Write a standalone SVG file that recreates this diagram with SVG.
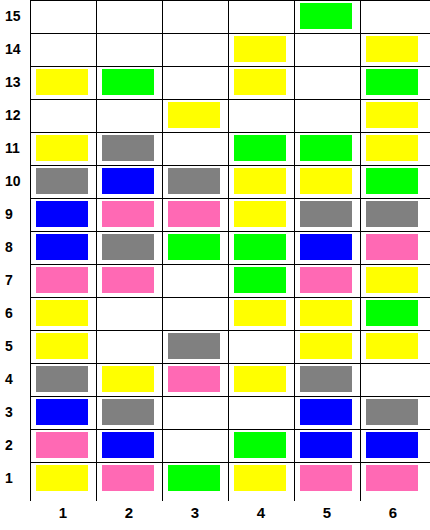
<svg xmlns="http://www.w3.org/2000/svg" width="430" height="530" viewBox="0 0 430 530">
<style>
.y{fill:#FFFF00}.g{fill:#00FF00}.b{fill:#0000FF}.k{fill:#808080}.p{fill:#FF69B4}
.ln{stroke:#000;stroke-width:1;fill:none}
.lb{font-family:"Liberation Sans",Arial,sans-serif;font-weight:bold;font-size:14px;fill:#000}
.c{text-anchor:middle;font-size:15px}
</style>
<rect width="430" height="530" fill="#fff"/>
<g id="grid" class="ln">
<path d="M30,0.5H430M30,33.5H430M30,66.5H430M30,99.5H430M30,132.5H430M30,165.5H430M30,198.5H430M30,231.5H430M30,264.5H430M30,297.5H430M30,330.5H430M30,363.5H430M30,396.5H430M30,429.5H430M30,462.5H430"/>
<path d="M30.5,0V501M96.5,0V501M162.5,0V501M228.5,0V501M294.5,0V501M360.5,0V501"/>
</g>
<g id="row-labels" class="lb">
<text x="5" y="21">15</text>
<text x="5" y="54">14</text>
<text x="5" y="87">13</text>
<text x="5" y="120">12</text>
<text x="5" y="153">11</text>
<text x="5" y="186">10</text>
<text x="5" y="219">9</text>
<text x="5" y="252">8</text>
<text x="5" y="285">7</text>
<text x="5" y="318">6</text>
<text x="5" y="351">5</text>
<text x="5" y="384">4</text>
<text x="5" y="417">3</text>
<text x="5" y="450">2</text>
<text x="5" y="483">1</text>
</g>
<g id="col-labels" class="lb c">
<text x="63" y="518">1</text>
<text x="129" y="518">2</text>
<text x="195" y="518">3</text>
<text x="261" y="518">4</text>
<text x="327" y="518">5</text>
<text x="393" y="518">6</text>
</g>
<g id="cells">
<rect id="r15c5" class="g" x="300" y="3" width="52" height="26"/>
<rect id="r14c4" class="y" x="234" y="36" width="52" height="26"/>
<rect id="r14c6" class="y" x="366" y="36" width="52" height="26"/>
<rect id="r13c1" class="y" x="36" y="69" width="52" height="26"/>
<rect id="r13c2" class="g" x="102" y="69" width="52" height="26"/>
<rect id="r13c4" class="y" x="234" y="69" width="52" height="26"/>
<rect id="r13c6" class="g" x="366" y="69" width="52" height="26"/>
<rect id="r12c3" class="y" x="168" y="102" width="52" height="26"/>
<rect id="r12c6" class="y" x="366" y="102" width="52" height="26"/>
<rect id="r11c1" class="y" x="36" y="135" width="52" height="26"/>
<rect id="r11c2" class="k" x="102" y="135" width="52" height="26"/>
<rect id="r11c4" class="g" x="234" y="135" width="52" height="26"/>
<rect id="r11c5" class="g" x="300" y="135" width="52" height="26"/>
<rect id="r11c6" class="y" x="366" y="135" width="52" height="26"/>
<rect id="r10c1" class="k" x="36" y="168" width="52" height="26"/>
<rect id="r10c2" class="b" x="102" y="168" width="52" height="26"/>
<rect id="r10c3" class="k" x="168" y="168" width="52" height="26"/>
<rect id="r10c4" class="y" x="234" y="168" width="52" height="26"/>
<rect id="r10c5" class="y" x="300" y="168" width="52" height="26"/>
<rect id="r10c6" class="g" x="366" y="168" width="52" height="26"/>
<rect id="r9c1" class="b" x="36" y="201" width="52" height="26"/>
<rect id="r9c2" class="p" x="102" y="201" width="52" height="26"/>
<rect id="r9c3" class="p" x="168" y="201" width="52" height="26"/>
<rect id="r9c4" class="y" x="234" y="201" width="52" height="26"/>
<rect id="r9c5" class="k" x="300" y="201" width="52" height="26"/>
<rect id="r9c6" class="k" x="366" y="201" width="52" height="26"/>
<rect id="r8c1" class="b" x="36" y="234" width="52" height="26"/>
<rect id="r8c2" class="k" x="102" y="234" width="52" height="26"/>
<rect id="r8c3" class="g" x="168" y="234" width="52" height="26"/>
<rect id="r8c4" class="g" x="234" y="234" width="52" height="26"/>
<rect id="r8c5" class="b" x="300" y="234" width="52" height="26"/>
<rect id="r8c6" class="p" x="366" y="234" width="52" height="26"/>
<rect id="r7c1" class="p" x="36" y="267" width="52" height="26"/>
<rect id="r7c2" class="p" x="102" y="267" width="52" height="26"/>
<rect id="r7c4" class="g" x="234" y="267" width="52" height="26"/>
<rect id="r7c5" class="p" x="300" y="267" width="52" height="26"/>
<rect id="r7c6" class="y" x="366" y="267" width="52" height="26"/>
<rect id="r6c1" class="y" x="36" y="300" width="52" height="26"/>
<rect id="r6c4" class="y" x="234" y="300" width="52" height="26"/>
<rect id="r6c5" class="y" x="300" y="300" width="52" height="26"/>
<rect id="r6c6" class="g" x="366" y="300" width="52" height="26"/>
<rect id="r5c1" class="y" x="36" y="333" width="52" height="26"/>
<rect id="r5c3" class="k" x="168" y="333" width="52" height="26"/>
<rect id="r5c5" class="y" x="300" y="333" width="52" height="26"/>
<rect id="r5c6" class="y" x="366" y="333" width="52" height="26"/>
<rect id="r4c1" class="k" x="36" y="366" width="52" height="26"/>
<rect id="r4c2" class="y" x="102" y="366" width="52" height="26"/>
<rect id="r4c3" class="p" x="168" y="366" width="52" height="26"/>
<rect id="r4c4" class="y" x="234" y="366" width="52" height="26"/>
<rect id="r4c5" class="k" x="300" y="366" width="52" height="26"/>
<rect id="r3c1" class="b" x="36" y="399" width="52" height="26"/>
<rect id="r3c2" class="k" x="102" y="399" width="52" height="26"/>
<rect id="r3c5" class="b" x="300" y="399" width="52" height="26"/>
<rect id="r3c6" class="k" x="366" y="399" width="52" height="26"/>
<rect id="r2c1" class="p" x="36" y="432" width="52" height="26"/>
<rect id="r2c2" class="b" x="102" y="432" width="52" height="26"/>
<rect id="r2c4" class="g" x="234" y="432" width="52" height="26"/>
<rect id="r2c5" class="b" x="300" y="432" width="52" height="26"/>
<rect id="r2c6" class="b" x="366" y="432" width="52" height="26"/>
<rect id="r1c1" class="y" x="36" y="465" width="52" height="26"/>
<rect id="r1c2" class="p" x="102" y="465" width="52" height="26"/>
<rect id="r1c3" class="g" x="168" y="465" width="52" height="26"/>
<rect id="r1c4" class="y" x="234" y="465" width="52" height="26"/>
<rect id="r1c5" class="p" x="300" y="465" width="52" height="26"/>
<rect id="r1c6" class="p" x="366" y="465" width="52" height="26"/>
</g>
</svg>
